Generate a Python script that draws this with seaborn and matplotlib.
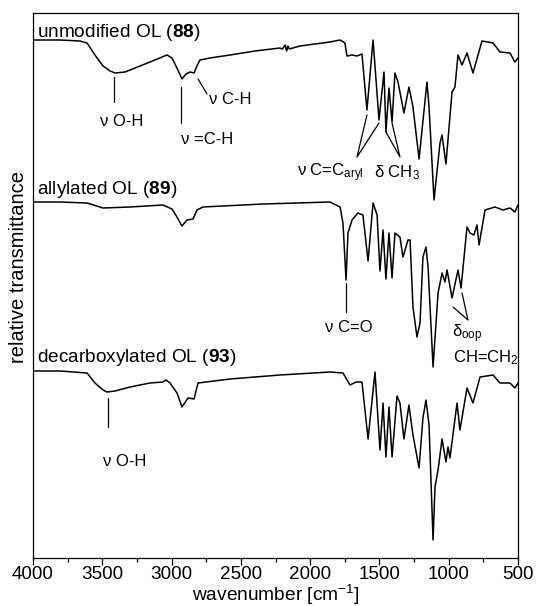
import matplotlib
matplotlib.use("Agg")
import matplotlib.pyplot as plt
from matplotlib.ticker import MultipleLocator
import seaborn as sns
import pandas as pd

# ---------------- data ----------------
# unmodified OL (88)
wn_88 = [4000, 3805, 3661, 3610, 3553, 3495, 3444, 3408, 3336, 3228, 3120, 3033, 2997,
         2961, 2925, 2896, 2867, 2838, 2817, 2795, 2723, 2578, 2398, 2218, 2200, 2180,
         2170, 2160, 2150, 2073, 1857, 1784, 1749, 1734, 1698, 1662, 1626, 1590, 1546,
         1503, 1467, 1453, 1431, 1409, 1388, 1366, 1323, 1287, 1258, 1214, 1157, 1142,
         1106, 1063, 1048, 1020, 976, 955, 933, 904, 868, 825, 760, 680, 630, 558, 522, 500]
t_88 = [518, 518, 517, 515, 503, 492, 487, 485, 486, 492, 498, 503, 500,
        490, 479, 484, 486, 485, 492, 498, 500, 503, 507, 510, 509, 513,
        507, 512, 509, 512, 516, 518, 515, 502, 503, 502, 504, 448, 518,
        438, 486, 426, 470, 436, 485, 476, 445, 471, 451, 399, 476, 451,
        358, 415, 423, 394, 466, 471, 503, 493, 505, 485, 517, 515, 506, 505, 496, 500]

# allylated OL (89)
wn_89 = [4000, 3805, 3610, 3495, 3300, 3062, 2997, 2961, 2925, 2889, 2845, 2817, 2773,
         2340, 1857, 1784, 1763, 1741, 1727, 1698, 1655, 1619, 1582, 1546, 1517, 1496,
         1474, 1453, 1431, 1409, 1388, 1352, 1330, 1294, 1279, 1258, 1229, 1207, 1186,
         1164, 1149, 1113, 1077, 1048, 1027, 1012, 976, 933, 911, 868, 846, 818, 796,
         781, 738, 666, 608, 558, 522, 500]
t_89 = [356, 356, 355, 350, 351, 353, 349, 341, 332, 338, 339, 348, 351,
        354, 356, 351, 335, 278, 325, 338, 345, 343, 297, 355, 343, 287,
        328, 279, 325, 280, 325, 321, 301, 318, 318, 251, 221, 235, 301,
        311, 291, 191, 265, 285, 276, 288, 260, 288, 270, 331, 325, 323, 333,
        313, 348, 351, 348, 350, 346, 353]

# decarboxylated OL (93)
wn_93 = [4000, 3805, 3610, 3553, 3495, 3466, 3408, 3300, 3156, 3062, 3040, 3011, 2961,
         2925, 2881, 2838, 2809, 2578, 2218, 1857, 1763, 1712, 1669, 1626, 1582, 1532,
         1496, 1474, 1453, 1431, 1409, 1373, 1352, 1323, 1287, 1258, 1214, 1186, 1164,
         1142, 1113, 1099, 1077, 1048, 1020, 1005, 991, 940, 919, 868, 825, 774, 680,
         630, 558, 522, 500]
t_93 = [187, 187, 185, 175, 168, 166, 167, 171, 175, 176, 178, 175, 165,
        151, 160, 159, 175, 179, 183, 186, 185, 173, 176, 176, 119, 186,
        108, 155, 101, 151, 101, 162, 155, 119, 153, 123, 90, 140, 158,
        133, 18, 71, 88, 119, 96, 111, 100, 155, 128, 170, 155, 181, 183,
        175, 175, 170, 175]

x_ticks = [4000, 3500, 3000, 2500, 2000, 1500, 1000, 500]

# ---------------- style ----------------
sns.set_theme(style="ticks")
plt.rcParams["font.family"] = ["Liberation Sans", "DejaVu Sans"]
plt.rcParams["mathtext.fontset"] = "custom"
plt.rcParams["mathtext.rm"] = "Liberation Sans"
plt.rcParams["mathtext.it"] = "Liberation Sans:italic"
plt.rcParams["mathtext.bf"] = "Liberation Sans:bold"
for key in ["text.color", "axes.labelcolor", "xtick.color", "ytick.color", "axes.edgecolor"]:
    plt.rcParams[key] = "black"

fig = plt.figure(figsize=(5.37, 6.06), dpi=100)
ax = fig.add_axes([33 / 537, 48 / 606, 485 / 537, 545 / 606])

for wn, t in [(wn_88, t_88), (wn_89, t_89), (wn_93, t_93)]:
    df = pd.DataFrame({"wavenumber": wn, "transmittance": t})
    sns.lineplot(data=df, x="wavenumber", y="transmittance", color="black",
                 linewidth=1.1, sort=False, estimator=None, ax=ax)

ax.set_xlim(4000, 500)
ax.set_ylim(0, 545)
ax.set_yticks([])
ax.set_xticks(x_ticks)
ax.set_xticklabels([str(v) for v in x_ticks])
ax.xaxis.set_minor_locator(MultipleLocator(250))
ax.tick_params(axis="x", which="major", direction="out", length=5, width=0.9,
               labelsize=13.6, pad=0.5, colors="black")
ax.tick_params(axis="x", which="minor", direction="out", length=3, width=0.9)
for s in ax.spines.values():
    s.set_visible(True)
    s.set_linewidth(0.9)
    s.set_color("black")

ax.set_xlabel("wavenumber [cm$^{-1}$]", fontsize=13.8, va="top")
ax.xaxis.set_label_coords(0.5, -0.046)
ax.set_ylabel("relative transmittance", fontsize=14.5)
ax.yaxis.set_label_coords(-0.01, 0.534)

# ---------------- sample labels ----------------
tfs = 13.7
ax.text(3971, 521, r"unmodified OL ($\mathbf{88}$)", fontsize=tfs, ha="left", va="baseline")
ax.text(3971, 364, r"allylated OL ($\mathbf{89}$)", fontsize=tfs, ha="left", va="baseline")
ax.text(3971, 196, r"decarboxylated OL ($\mathbf{93}$)", fontsize=tfs, ha="left", va="baseline")

# ---------------- band annotations ----------------
afs = 12
lw = 0.9
# spectrum 88
ax.plot([3415, 3415], [481, 456], color="black", lw=lw)
ax.text(3358, 436, "ν O-H", fontsize=afs, ha="center", va="center")
ax.plot([2932, 2932], [471, 435], color="black", lw=lw)
ax.text(2744, 418, "ν =C-H", fontsize=afs, ha="center", va="center")
ax.plot([2809, 2744], [479, 464], color="black", lw=lw)
ax.text(2578, 459, "ν C-H", fontsize=afs, ha="center", va="center")
ax.plot([1590, 1662, 1503], [443, 401, 435], color="black", lw=lw)
ax.text(1857, 385, r"ν C=C$_{\mathrm{aryl}}$", fontsize=afs, ha="center", va="center")
ax.plot([1453, 1352, 1409], [426, 401, 435], color="black", lw=lw)
ax.text(1373, 385, r"δ CH$_{3}$", fontsize=afs, ha="center", va="center")
# spectrum 89
ax.plot([1741, 1741], [275, 246], color="black", lw=lw)
ax.text(1720, 230, "ν C=O", fontsize=afs, ha="center", va="center")
ax.plot([969, 861, 904], [251, 238, 265], color="black", lw=lw)
ax.text(976, 221, r"δ$_{\mathrm{oop}}$", fontsize=afs, ha="left", va="baseline")
ax.text(969, 196, r"CH=CH$_{2}$", fontsize=afs, ha="left", va="baseline")
# spectrum 93
ax.plot([3459, 3459], [160, 131], color="black", lw=lw)
ax.text(3336, 97, "ν O-H", fontsize=afs, ha="center", va="center")

fig.savefig("out.png", dpi=100)
